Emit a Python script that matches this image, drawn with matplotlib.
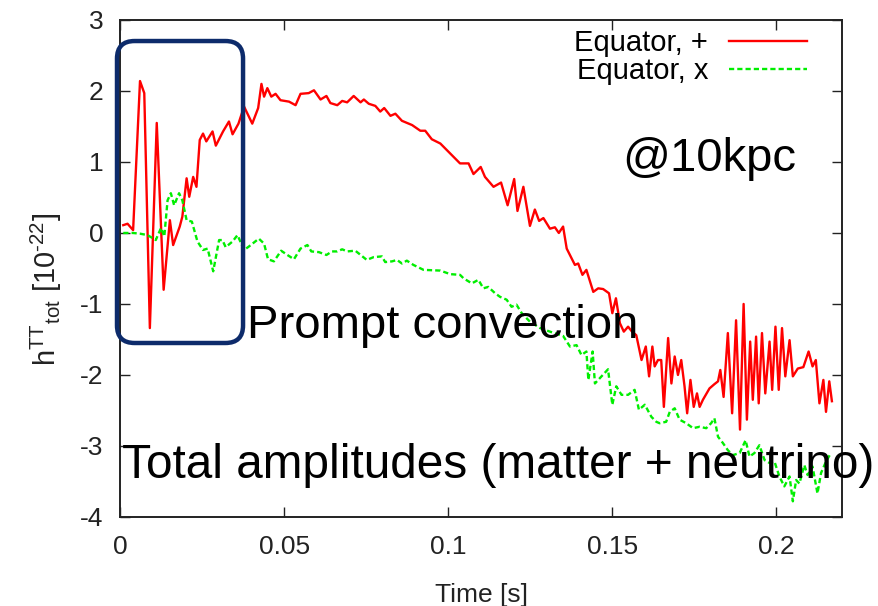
import matplotlib
matplotlib.use('Agg')
import matplotlib.pyplot as plt
from matplotlib.patches import FancyBboxPatch

plt.rcParams['font.family'] = ['Liberation Sans', 'DejaVu Sans']
plt.rcParams['mathtext.fontset'] = 'custom'
plt.rcParams['mathtext.rm'] = 'Liberation Sans'
plt.rcParams['axes.unicode_minus'] = False

# Equator, +
t_plus = [0.001, 0.0023, 0.004, 0.0061, 0.0074, 0.0091, 0.0112, 0.0133, 0.0152, 0.0162,
          0.0182, 0.0190, 0.0203, 0.0211, 0.0223, 0.0233, 0.0243, 0.0253, 0.0263, 0.0282,
          0.0292, 0.0314, 0.0332, 0.0343, 0.0361, 0.0378, 0.0403, 0.0421, 0.0431, 0.0439,
          0.0449, 0.0461, 0.0474, 0.0489, 0.0515, 0.0535, 0.0550, 0.0575, 0.0591, 0.0611,
          0.0629, 0.0641, 0.0662, 0.0677, 0.0692, 0.0712, 0.0733, 0.0743, 0.0758, 0.0778,
          0.0793, 0.0805, 0.0824, 0.0839, 0.0859, 0.0890, 0.0915, 0.0930, 0.0950, 0.0976,
          0.1006, 0.1036, 0.1062, 0.1077, 0.1099, 0.1112, 0.1138, 0.1161, 0.1181, 0.1201,
          0.1211, 0.1229, 0.1249, 0.1264, 0.1277, 0.1290, 0.1310, 0.1325, 0.1337, 0.1350,
          0.1361, 0.1386, 0.1396, 0.1409, 0.1421, 0.1442, 0.1457, 0.1472, 0.1490, 0.1500,
          0.1511, 0.1523, 0.1535, 0.1548, 0.1560, 0.1573, 0.1589, 0.1602, 0.1612, 0.1622,
          0.1629, 0.1639, 0.1649, 0.1657, 0.1670, 0.1680, 0.1690, 0.1700, 0.1710, 0.1720,
          0.1728, 0.1738, 0.1748, 0.1758, 0.1766, 0.1776, 0.1796, 0.1811, 0.1822, 0.1829,
          0.1839, 0.1852, 0.1865, 0.1877, 0.1889, 0.1900, 0.1910, 0.1920, 0.1928, 0.1938,
          0.1946, 0.1956, 0.1966, 0.1979, 0.1987, 0.1997, 0.2007, 0.2017, 0.2027, 0.2040,
          0.2050, 0.2065, 0.2082, 0.2098, 0.2110, 0.2120, 0.2131, 0.2143, 0.2151, 0.2161,
          0.2169]
h_plus = [0.11, 0.13, 0.04, 2.14, 1.97, -1.34, 1.55, -0.80, 0.18, -0.17,
          0.09, 0.23, 0.77, 0.51, 0.79, 0.65, 1.31, 1.40, 1.29, 1.43,
          1.23, 1.43, 1.57, 1.39, 1.54, 1.78, 1.54, 1.76, 2.10, 1.92,
          2.04, 1.92, 1.96, 1.87, 1.85, 1.80, 1.96, 1.97, 2.01, 1.88,
          1.93, 1.83, 1.80, 1.86, 1.84, 1.93, 1.84, 1.88, 1.82, 1.79,
          1.71, 1.76, 1.65, 1.68, 1.58, 1.52, 1.44, 1.44, 1.32, 1.26,
          1.12, 0.98, 0.98, 0.83, 0.93, 0.79, 0.65, 0.71, 0.39, 0.76,
          0.31, 0.65, 0.10, 0.33, 0.17, 0.21, 0.06, 0.08, 0.00, 0.09,
          -0.22, -0.45, -0.43, -0.59, -0.52, -0.83, -0.78, -0.79, -0.85, -1.13,
          -0.92, -1.27, -1.39, -1.32, -1.39, -1.44, -1.79, -1.60, -2.02, -1.60,
          -1.88, -1.79, -1.79, -2.45, -1.48, -2.12, -1.74, -2.00, -1.79, -2.16,
          -2.54, -2.07, -2.45, -2.26, -2.45, -2.35, -2.19, -2.13, -2.09, -1.93,
          -2.31, -1.41, -2.54, -1.23, -2.77, -1.00, -2.63, -1.53, -2.35, -1.46,
          -2.40, -1.41, -2.26, -1.53, -2.21, -1.32, -2.21, -1.34, -2.02, -1.51,
          -2.02, -1.91, -1.89, -1.67, -1.88, -1.79, -2.40, -2.07, -2.52, -2.09,
          -2.37]

# Equator, x
t_cross = [0.001, 0.0039, 0.0061, 0.0084, 0.0109, 0.0125, 0.0135, 0.0145, 0.0155, 0.0165,
           0.0180, 0.0190, 0.0203, 0.0219, 0.0236, 0.0253, 0.0267, 0.0284, 0.0302, 0.0312,
           0.0322, 0.0343, 0.0358, 0.0378, 0.0393, 0.0423, 0.0439, 0.0451, 0.0469, 0.0491,
           0.0510, 0.0530, 0.0550, 0.0571, 0.0583, 0.0606, 0.0629, 0.0646, 0.0662, 0.0677,
           0.0692, 0.0717, 0.0752, 0.0773, 0.0798, 0.0808, 0.0829, 0.0844, 0.0859, 0.0874,
           0.0894, 0.0925, 0.0976, 0.1006, 0.1036, 0.1047, 0.1072, 0.1092, 0.1107, 0.1122,
           0.1143, 0.1158, 0.1178, 0.1193, 0.1208, 0.1224, 0.1249, 0.1280, 0.1310, 0.1350,
           0.1371, 0.1391, 0.1406, 0.1421, 0.1427, 0.1440, 0.1447, 0.1467, 0.1487, 0.1500,
           0.1512, 0.1528, 0.1548, 0.1568, 0.1581, 0.1599, 0.1619, 0.1634, 0.1644, 0.1664,
           0.1675, 0.1690, 0.1705, 0.1725, 0.1746, 0.1766, 0.1786, 0.1801, 0.1811, 0.1822,
           0.1837, 0.1852, 0.1867, 0.1888, 0.1906, 0.1918, 0.1933, 0.1948, 0.1964, 0.1979,
           0.1994, 0.2009, 0.2024, 0.2040, 0.2050, 0.2060, 0.2070, 0.2085, 0.2095, 0.2110,
           0.2125, 0.2136, 0.2151, 0.2166]
h_cross = [0.0, 0.0, -0.01, -0.03, -0.10, 0.07, -0.05, 0.46, 0.56, 0.39,
           0.56, 0.46, 0.18, 0.16, -0.12, -0.24, -0.22, -0.54, -0.10, -0.10,
           -0.20, -0.12, -0.03, -0.24, -0.19, -0.08, -0.15, -0.37, -0.40, -0.25,
           -0.31, -0.37, -0.22, -0.17, -0.26, -0.27, -0.31, -0.26, -0.26, -0.23,
           -0.26, -0.25, -0.38, -0.34, -0.33, -0.41, -0.40, -0.38, -0.43, -0.39,
           -0.45, -0.52, -0.53, -0.58, -0.59, -0.64, -0.71, -0.66, -0.78, -0.76,
           -0.85, -0.90, -0.94, -1.04, -1.01, -1.13, -1.25, -1.34, -1.39, -1.45,
           -1.60, -1.58, -1.72, -1.67, -2.07, -1.67, -2.12, -2.02, -1.92, -2.42,
           -2.16, -2.28, -2.28, -2.21, -2.49, -2.42, -2.59, -2.66, -2.68, -2.66,
           -2.52, -2.47, -2.63, -2.68, -2.75, -2.73, -2.75, -2.68, -2.61, -2.87,
           -2.96, -3.06, -3.13, -3.10, -2.92, -3.15, -3.10, -2.99, -3.20, -3.24,
           -3.22, -3.43, -3.57, -3.43, -3.78, -3.48, -3.53, -3.27, -3.41, -3.29,
           -3.67, -3.38, -3.22, -3.10]

xticks = [0, 0.05, 0.1, 0.15, 0.2]
xtick_labels = ['0', '0.05', '0.1', '0.15', '0.2']
yticks = [-4, -3, -2, -1, 0, 1, 2, 3]

fig = plt.figure(figsize=(8.79, 6.06), dpi=100)
ax = fig.add_axes([0.1365, 0.147, 0.8215, 0.820])

ax.plot(t_plus, h_plus, color='#ff0000', lw=1.7, label='Equator, +')
ax.plot(t_cross, h_cross, color='#00ee00', lw=1.7, linestyle=(0, (2.2, 1.3)), label='Equator, x')

ax.set_xlim(0, 0.22)
ax.set_ylim(-4, 3)
ax.set_xticks(xticks, xtick_labels)
ax.set_yticks(yticks)
ax.tick_params(direction='in', length=7, width=1, top=True, right=True,
               labelsize=19, colors='#222222', labelcolor='#222222')
ax.tick_params(axis='x', pad=13)
ax.tick_params(axis='y', pad=12)
for s in ax.spines.values():
    s.set_linewidth(1.4)
    s.set_color('#222222')

ax.set_xlabel('Time [s]', fontsize=19, color='#222222', labelpad=17)
ax.set_ylabel(r'h$^{\mathrm{TT}}$$_{\mathrm{tot}}$ [10$^{\text{-}22}$]', fontsize=21,
              color='#222222')
ax.yaxis.set_label_coords(-0.078, 0.457)

leg = ax.legend(loc='upper right', bbox_to_anchor=(0.968, 1.005), borderaxespad=0,
                frameon=False, markerfirst=False, handlelength=2.7, handletextpad=0.7,
                labelspacing=0.0, prop={'family': 'Liberation Sans', 'size': 21})
for txt in leg.get_texts():
    txt.set_ha('right')

# textos sobrepostos
fig.text(0.708, 0.717, '@10kpc', fontsize=34, ha='left', va='baseline')
fig.text(0.281, 0.443, 'Prompt convection', fontsize=34, ha='left', va='baseline')
fig.text(0.139, 0.211, 'Total amplitudes (matter + neutrino)', fontsize=34.4,
         ha='left', va='baseline')

# caixa arredondada
asp = 879 / 606
caixa = FancyBboxPatch((0.1331 + 0.02, 0.434 + 0.02 * asp), 0.1434 - 0.04, 0.4983 - 0.04 * asp,
                       boxstyle='round,pad=0.02', mutation_aspect=asp,
                       transform=fig.transFigure, fill=False, edgecolor='#0d2b6b', lw=3.2)
fig.patches.append(caixa)

fig.savefig('out.png', dpi=100)
